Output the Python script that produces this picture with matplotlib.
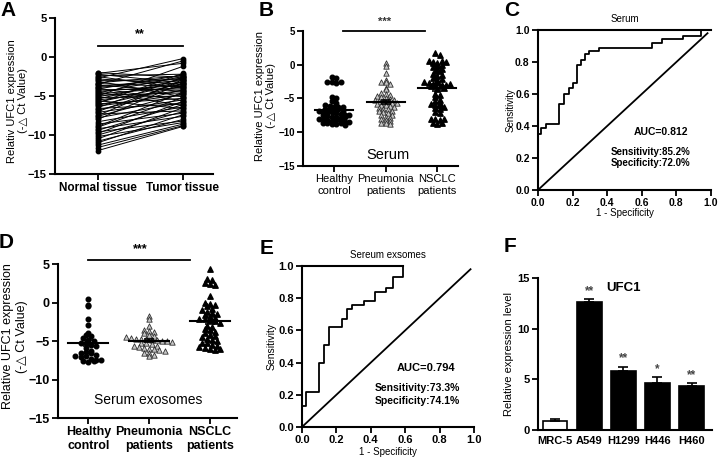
import numpy as np
import matplotlib.pyplot as plt

plt.rcParams['font.family'] = ['Liberation Sans', 'DejaVu Sans']
plt.rcParams['font.weight'] = 'bold'
plt.rcParams['axes.linewidth'] = 1.5

# --- data ---
# A: paired tissue samples
normal = [-2.0, -2.1, -2.2, -2.4, -2.5, -2.7, -2.8, -3.0, -3.1, -3.3, -3.4, -3.5, -3.6, -3.8, -3.9,
          -4.0, -4.1, -4.2, -4.4, -4.5, -4.6, -4.7, -4.9, -5.0, -5.1, -5.2, -5.4, -5.5, -5.6, -5.8,
          -5.9, -6.0, -6.2, -6.3, -6.5, -6.6, -6.8, -7.0, -7.1, -7.3, -7.5, -7.6, -7.8, -8.0, -8.3,
          -8.6, -8.9, -9.0, -9.2, -9.4, -9.6, -9.8, -10.0, -10.2, -10.5, -10.8, -11.0, -11.3, -11.6, -12.0]
tumor = [-2.6, -0.8, -3.3, -2.2, -4.0, -0.2, -3.5, -2.9, -5.1, -2.4, -3.8, -0.5, -4.4, -2.7, -3.0,
         -5.6, -2.3, -4.1, -3.6, -6.2, -2.5, -3.9, -4.6, -1.2, -3.2, -5.0, -2.8, -4.3, -6.6, -3.4,
         -2.1, -5.3, -3.7, -4.8, -2.6, -6.0, -4.2, -3.1, -5.5, -6.9, -2.9, -4.7, -5.8, -3.3, -6.4,
         -7.2, -4.5, -5.2, -7.6, -6.1, -8.2, -5.7, -7.0, -8.4, -6.5, -8.0, -7.4, -8.6, -8.8, -8.9]

# B: serum
b_healthy = [-1.8, -1.9, -2.5, -2.6, -2.7, -2.6, -4.8, -5.0, -5.4,
             -5.7, -5.9, -6.1, -6.2, -6.3, -6.2, -6.5, -6.6, -6.7, -6.6, -6.8, -6.9, -7.0, -7.1,
             -7.0, -7.2, -7.3, -7.4, -7.5, -7.4, -7.6, -7.7, -7.8, -7.9, -7.8, -8.0, -8.1, -8.2,
             -8.3, -8.2, -8.4, -8.5, -8.6, -8.5, -8.7, -8.8, -8.8, -8.7, -8.9]
b_pneu = [0.3, -0.2, -1.3, -2.3, -2.5, -2.6, -2.8, -3.5, -3.6, -4.2, -4.4, -4.5, -4.7, -4.8, -5.0,
          -5.1, -5.2, -5.3, -5.4, -5.5, -5.5, -5.6, -5.7, -5.8, -5.9, -6.0, -6.1, -6.3, -6.4, -6.5,
          -6.6, -6.8, -6.9, -7.0, -7.2, -7.4, -7.5, -7.7, -7.9, -8.0, -8.2, -8.4, -8.6, -8.7, -8.8]
b_nsclc = [1.7, 1.4, 0.5, 0.4, 0.3, 0.5, 0.4, 0.2, -0.2, -0.3, -0.1, -0.8, -0.9, -1.0, -0.7,
           -1.4, -1.6, -1.5, -2.0, -2.2, -2.1, -2.6, -2.7, -2.8, -2.6, -3.0, -3.1, -3.0, -3.2,
           -2.9, -3.1, -3.5, -3.6, -4.3, -4.5, -4.8, -5.2, -5.4, -5.6, -5.8, -5.9, -6.0, -6.2,
           -6.4, -6.6, -7.0, -7.2, -8.0, -8.1, -8.2, -8.0, -8.7, -8.8, -8.6]

# D: serum exosomes
d_healthy = [0.4, -0.3, -0.5, -2.1, -2.9, -3.9, -4.2, -4.4, -4.6, -4.9, -5.0, -5.2, -5.3, -5.5,
             -5.6, -5.9, -6.3, -6.5, -6.4, -6.6, -6.8, -7.0, -7.1, -7.0, -7.3, -7.5, -7.6, -7.5,
             -7.7, -7.6]
d_pneu = [-1.8, -2.1, -3.0, -3.6, -3.7, -3.8, -4.0, -4.2, -4.3, -4.5, -4.6, -4.7, -4.8, -4.8,
          -4.9, -4.9, -5.0, -5.0, -5.1, -5.2, -5.3, -5.4, -5.6, -5.7, -5.8, -5.9, -6.0, -6.1,
          -6.2, -6.3, -6.5, -6.6, -6.8, -6.9]
d_nsclc = [4.3, 3.0, 2.9, 2.5, 2.4, 2.3, 0.8, -0.1, -0.2, -0.3, -0.4, -0.8, -1.0, -1.2, -1.4,
           -1.6, -1.5, -1.9, -2.0, -2.2, -2.1, -2.3, -2.4, -2.6, -3.0, -3.2, -3.4, -3.6, -3.8,
           -4.0, -4.2, -4.4, -4.5, -4.7, -4.9, -5.0, -5.2, -5.3, -5.5, -5.6, -5.8, -5.9, -6.1,
           -6.2, -6.0]

groups = ['Healthy\ncontrol', 'Pneumonia\npatients', 'NSCLC\npatients']

# C / E: ROC curves
fpr_c = [0.0, 0.0, 0.015, 0.044, 0.124, 0.149, 0.177, 0.202, 0.225, 0.248, 0.272, 0.297, 0.354,
         0.657, 0.716, 0.838, 0.94, 0.97]
tpr_c = [0.0, 0.35, 0.39, 0.41, 0.54, 0.60, 0.635, 0.67, 0.78, 0.815, 0.85, 0.87, 0.89,
         0.92, 0.945, 0.965, 1.0, 1.0]
fpr_e = [0.0, 0.0, 0.025, 0.097, 0.128, 0.16, 0.232, 0.263, 0.29, 0.358, 0.426, 0.489, 0.528, 0.59]
tpr_e = [0.0, 0.133, 0.22, 0.40, 0.51, 0.62, 0.67, 0.73, 0.76, 0.78, 0.84, 0.865, 0.93, 1.0]

# F: cell lines
cells = ['MRC-5', 'A549', 'H1299', 'H446', 'H460']
cell_mean = [0.9, 12.65, 5.85, 4.65, 4.35]
cell_err = [0.15, 0.25, 0.4, 0.55, 0.25]
cell_sig = ['', '**', '**', '*', '**']


def swarm(vals, center, row, dx):
    vals = np.asarray(vals, dtype=float)
    bins = np.round(vals / row)
    xs = np.empty_like(vals)
    for b in np.unique(bins):
        idx = np.where(bins == b)[0]
        n = len(idx)
        xs[idx] = center + (np.arange(n) - (n - 1) / 2) * dx
    return xs


def style(ax, size):
    ax.spines['right'].set_visible(False)
    ax.spines['top'].set_visible(False)
    ax.tick_params(direction='out', length=4, width=1.3, labelsize=size, pad=2)


def dotplot(ax, data, row, dx, half, size):
    styles = [dict(marker='o', color='black', s=11),
              dict(marker='^', facecolor='#c8c8c8', edgecolor='#303030', linewidths=0.6, s=15),
              dict(marker='^', color='black', s=15)]
    for i, vals in enumerate(data):
        ax.scatter(swarm(vals, i, row, dx), vals, zorder=2, **styles[i])
        m = np.mean(vals)
        sem = np.std(vals, ddof=1) / np.sqrt(len(vals))
        ax.plot([i - half, i + half], [m, m], color='black', lw=1.5, zorder=3)
        ax.errorbar(i, m, yerr=sem, color='black', capsize=3.5, lw=1.2, capthick=1.2, zorder=3)
    ax.set_ylim(-15, 5)
    ax.set_yticks([-15, -10, -5, 0, 5])
    ax.set_xticks(range(3))
    ax.set_xticklabels(groups)
    style(ax, size)


fig = plt.figure(figsize=(7.2, 4.58), dpi=100)

# ---- A ----
axA = fig.add_axes([0.0764, 0.620, 0.219, 0.3406])
for n, t in zip(normal, tumor):
    axA.plot([0, 1], [n, t], color='black', lw=0.7)
axA.scatter(np.zeros(len(normal)), normal, s=10, color='black', zorder=3)
axA.scatter(np.ones(len(tumor)), tumor, s=10, color='black', zorder=3)
axA.set_xlim(-0.5, 1.35)
axA.set_ylim(-15, 5)
axA.set_yticks([-15, -10, -5, 0, 5])
axA.set_xticks([0, 1])
axA.set_xticklabels(['Normal tissue', 'Tumor tissue'])
style(axA, 8)
axA.tick_params(axis='x', labelsize=8.5)
axA.plot([0, 1], [1.4, 1.4], color='black', lw=1.3)
axA.text(0.5, 2.2, '**', ha='center', va='bottom', fontsize=9)
axA.set_ylabel('Relativ UFC1 expression\n(-△ Ct Value)', fontsize=8, linespacing=1.1)
axA.yaxis.set_label_coords(-0.17, 0.47)

# ---- B ----
axB = fig.add_axes([0.4208, 0.6376, 0.2153, 0.2948])
dotplot(axB, [b_healthy, b_pneu, b_nsclc], 0.55, 0.085, 0.37, 7)
axB.set_xlim(-0.6, 2.4)
for lab in axB.get_xticklabels():
    lab.set_fontweight('normal')
    lab.set_fontsize(8)
axB.plot([0.17, 1.77], [5, 5], color='black', lw=1.3, clip_on=False)
axB.text(0.97, 5.6, '***', ha='center', va='bottom', fontsize=8, color='#333333')
axB.text(1.05, -13.4, 'Serum', ha='center', va='center', fontsize=10.5, fontweight='normal')
axB.set_ylabel('Relative UFC1 expression\n(-△ Ct Value)', fontsize=8, linespacing=1.1)
axB.yaxis.set_label_coords(-0.175, 0.52)

# ---- C ----
axC = fig.add_axes([0.7472, 0.5852, 0.2403, 0.3493])
axC.plot(fpr_c, tpr_c, drawstyle='steps-post', color='black', lw=1.3)
axC.plot([0, 0.98], [0, 0.98], color='black', lw=1.3)
axC.set_xlim(0, 1)
axC.set_ylim(0, 1)
axC.set_xticks(np.arange(0, 1.01, 0.2))
axC.set_yticks(np.arange(0, 1.01, 0.2))
axC.xaxis.set_major_formatter('{x:.1f}')
axC.yaxis.set_major_formatter('{x:.1f}')
style(axC, 7.5)
axC.spines['top'].set_visible(True)
axC.set_title('Serum', fontsize=7, pad=6)
axC.set_xlabel('1 - Specificity', fontsize=7)
axC.xaxis.set_label_coords(0.5, -0.11)
axC.set_ylabel('Sensitivity', fontsize=7)
axC.yaxis.set_label_coords(-0.13, 0.5)
axC.text(0.555, 0.36, 'AUC=0.812', fontsize=7.5, va='center')
axC.text(0.42, 0.24, 'Sensitivity:85.2%', fontsize=7, va='center')
axC.text(0.42, 0.17, 'Specificity:72.0%', fontsize=7, va='center')

# ---- D ----
axD = fig.add_axes([0.0806, 0.0873, 0.2486, 0.3362])
dotplot(axD, [d_healthy, d_pneu, d_nsclc], 0.6, 0.085, 0.33, 9)
axD.set_xlim(-0.5, 2.45)
axD.plot([0, 1.67], [5.56, 5.56], color='black', lw=1.3, clip_on=False)
axD.text(0.85, 6.1, '***', ha='center', va='bottom', fontsize=9)
axD.text(0.98, -12.7, 'Serum exosomes', ha='center', va='center', fontsize=10, fontweight='normal')
axD.set_ylabel('Relative UFC1 expression\n(-△ Ct Value)', fontsize=9, linespacing=1.15)
axD.yaxis.set_label_coords(-0.17, 0.53)

# ---- E ----
axE = fig.add_axes([0.4194, 0.0677, 0.2389, 0.3515])
axE.plot(fpr_e, tpr_e, drawstyle='steps-post', color='black', lw=1.3)
axE.plot([0, 0.98], [0, 0.98], color='black', lw=1.3)
axE.set_xlim(0, 1)
axE.set_ylim(0, 1)
axE.set_xticks(np.arange(0, 1.01, 0.2))
axE.set_yticks(np.arange(0, 1.01, 0.2))
axE.xaxis.set_major_formatter('{x:.1f}')
axE.yaxis.set_major_formatter('{x:.1f}')
style(axE, 8)
axE.spines['top'].set_visible(True)
axE.spines['top'].set_bounds(0, fpr_e[-1])
axE.set_title('Sereum exsomes', fontsize=7, pad=6)
axE.set_xlabel('1 - Specificity', fontsize=7)
axE.xaxis.set_label_coords(0.5, -0.125)
axE.set_ylabel('Sensitivity', fontsize=7.5)
axE.yaxis.set_label_coords(-0.15, 0.5)
axE.text(0.55, 0.366, 'AUC=0.794', fontsize=8, va='center')
axE.text(0.424, 0.24, 'Sensitivity:73.3%', fontsize=7.5, va='center')
axE.text(0.424, 0.163, 'Specificity:74.1%', fontsize=7.5, va='center')

# ---- F ----
axF = fig.add_axes([0.7472, 0.0611, 0.2417, 0.3319])
x = np.arange(len(cells))
colors = ['white'] + ['black'] * 4
axF.bar(x, cell_mean, width=0.73, color=colors, edgecolor='black', lw=1.2)
axF.errorbar(x, cell_mean, yerr=[np.zeros(len(cells)), cell_err], fmt='none',
             ecolor='black', capsize=3.5, elinewidth=1.2, capthick=1.2)
for xi, m, e, s in zip(x, cell_mean, cell_err, cell_sig):
    axF.text(xi, m + e + 0.25, s, ha='center', va='bottom', fontsize=8.5, color='#444444')
axF.set_xlim(-0.5, 4.6)
axF.set_ylim(0, 15)
axF.set_yticks([0, 5, 10, 15])
axF.set_xticks(x)
axF.set_xticklabels(cells)
style(axF, 8)
axF.tick_params(axis='x', length=0, pad=4)
axF.text(2.0, 14.0, 'UFC1', ha='center', va='center', fontsize=9.5)
axF.set_ylabel('Relative expression level', fontsize=8)
axF.yaxis.set_label_coords(-0.135, 0.5)

# panel letters
for letter, px, py in [('A', 8, 11), ('B', 266, 10), ('C', 512, 11),
                       ('D', 6, 242), ('E', 267, 248), ('F', 510, 247)]:
    fig.text(px / 720, 1 - py / 458, letter, fontsize=15, ha='center', va='center')

fig.savefig('out.png', dpi=100)
